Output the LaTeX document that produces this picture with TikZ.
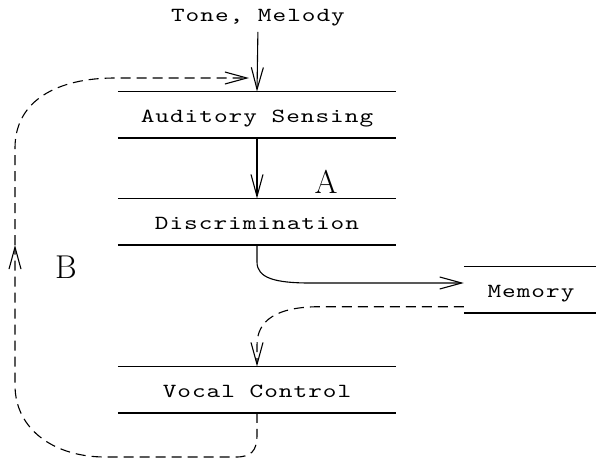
\documentclass[tikz,border=0pt]{standalone}
\usepackage{fontspec}
\usetikzlibrary{arrows.meta}
\newfontfamily\lbltt[Extension=.otf, FakeStretch=1.3, LetterSpace=5]{lmmono10-regular}
\newcommand{\lblfont}{\fontsize{20}{24}\lbltt}
\begin{document}
\begin{tikzpicture}[x=1pt,y=-1pt,
  lbl/.style={font=\lblfont, inner sep=0pt, text height=18pt, text depth=3pt},
  layer/.style={lbl, minimum width=278pt, minimum height=46pt},
  rule/.style={line width=1.2pt},
  arr/.style={line width=1.1pt, -{Straight Barb[length=22pt,width=12pt,line width=1.1pt]}},
  dsh/.style={arr, dash pattern=on 10pt off 6pt},
  big/.style={font=\fontsize{33}{36}\selectfont, inner sep=0pt, anchor=base}
]
\useasboundingbox (0,0) rectangle (596,458);

\node[layer] (aud) at (257,114.7) {Auditory Sensing};
\node[layer] (dis) at (257,221.7) {Discrimination};
\node[layer] (voc) at (257,389.7) {Vocal Control};
\node[layer, minimum width=134pt] (mem) at (531,289.7) {Memory};
\node[lbl] (tone) at (258,14.2) {Tone, Melody};
\node[big] (A) at (326,193) {A};
\node[big] (B) at (66,278) {B};

\foreach \n in {aud,dis,voc,mem}
  \draw[rule] (\n.north west) -- (\n.north east) (\n.south west) -- (\n.south east);

\draw[arr, shorten <=7pt] (tone.south) -- (aud.north);
\draw[arr] (aud.south) -- (dis.north);
\draw[arr] (dis.south) -- (257,262) .. controls (257,278) and (275,283) .. (310,283) -- ([yshift=6.7pt]mem.west);
\draw[dsh] ([yshift=-17pt]mem.west) -- (320,306.7) .. controls (277,306.7) and (257,320) .. (257,345) -- (voc.north);

\coordinate (bmid) at (15,245);
\coordinate (tin) at (249,78);
\draw[dsh] (voc.south) -- (257,435) .. controls (257,451) and (251,457) .. (236,457) -- (105,457)
  .. controls (55,457) and (15,430) .. (15,385) -- (bmid);
\draw[dsh] (bmid) -- (15,148) .. controls (15,100) and (58,78) .. (115,78) -- (tin);
\end{tikzpicture}
\end{document}
